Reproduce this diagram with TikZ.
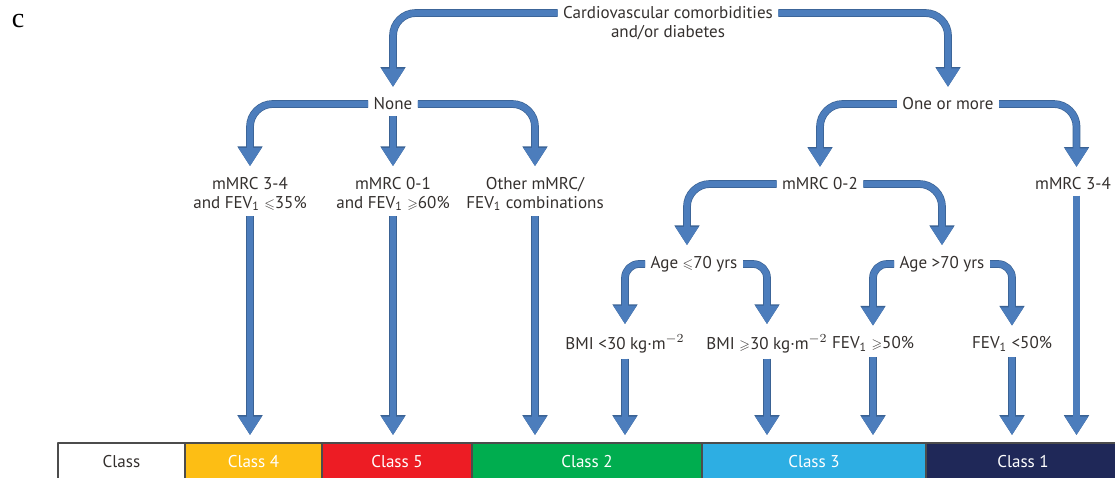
\documentclass[tikz,border=0pt]{standalone}
\usepackage{fontspec}
\usepackage{amssymb}
\usepackage{graphicx}
\newfontfamily\dinfont{PT Sans}
\newfontfamily\serfont{Liberation Serif}
\usetikzlibrary{arrows.meta}
\definecolor{arrowblue}{RGB}{76,125,188}
\definecolor{arrowedge}{RGB}{58,98,148}
\definecolor{txtgrey}{RGB}{52,48,46}
\definecolor{clsyellow}{RGB}{253,190,20}
\definecolor{clsred}{RGB}{237,28,36}
\definecolor{clsgreen}{RGB}{0,173,79}
\definecolor{clscyan}{RGB}{45,174,227}
\definecolor{clsnavy}{RGB}{31,40,88}
\newcommand{\lesym}{\scalebox{0.8}{$\leqslant$}}
\newcommand{\gesym}{\scalebox{0.8}{$\geqslant$}}
\begin{document}
\begin{tikzpicture}[x=0.02cm, y=-0.02cm, font=\dinfont\fontsize{9.7}{10.8}\selectfont, line join=round,
	txt/.style={text=txtgrey, inner sep=3pt, align=center},
	flow/.style={draw=arrowblue, line width=3.6pt, rounded corners=13pt, -{Triangle[width=12.5pt,length=10.5pt]}, shorten >=3pt,
		preaction={draw=arrowedge, line width=4.4pt, -{Triangle[width=13.6pt,length=11.3pt]}}},
	tight/.style={rounded corners=8pt},
	cell/.style={draw=black!70, line width=0.6pt}]
	\clip (0,0) rectangle (1115,477);
	\node[font=\serfont\fontsize{16}{16}\selectfont] (tag) at (18,21) {c};
	\node[txt] (cvd) at (668,13) {Cardiovascular comorbidities};
	\node[txt] (cvdb) at (668,33) {and/or diabetes};
	\node[txt] (none) at (393,104) {None};
	\node[txt] (more) at (948,104) {One or more};
	\node[txt] (m34) at (250,194) {mMRC 3-4\\and FEV\textsubscript{1} \lesym35\%};
	\node[txt] (m01) at (393,194) {mMRC 0-1\\and FEV\textsubscript{1} \gesym60\%};
	\node[txt] (oth) at (535,194) {Other mMRC/\\FEV\textsubscript{1} combinations};
	\node[txt] (m02) at (820,184) {mMRC 0-2};
	\node[txt] (mr34) at (1073,184) {mMRC 3-4};
	\node[txt] (agelo) at (694,264) {Age \lesym70 yrs};
	\node[txt] (agehi) at (942,264) {Age >70 yrs};
	\node[txt] (bmilo) at (625,344) {BMI <30 kg·m$^{-2}$};
	\node[txt] (bmihi) at (767,344) {BMI \gesym30 kg·m$^{-2}$};
	\node[txt] (fevhi) at (873,344) {FEV\textsubscript{1} \gesym50\%};
	\node[txt] (fevlo) at (1012,344) {FEV\textsubscript{1} <50\%};
	\coordinate (bartop) at (0,443);
	\draw[cell] (58,443) rectangle (185,480) node[midway, text=txtgrey] (c0) {Class};
	\draw[cell, fill=clsyellow] (185,443) rectangle (322,480) node[midway, text=white] (c4) {Class 4};
	\draw[cell, fill=clsred] (322,443) rectangle (472,480) node[midway, text=white] (c5) {Class 5};
	\draw[cell, fill=clsgreen] (472,443) rectangle (702,480) node[midway, text=white] (c2) {Class 2};
	\draw[cell, fill=clscyan] (702,443) rectangle (926,480) node[midway, text=white] (c3) {Class 3};
	\draw[cell, fill=clsnavy] (926,443) rectangle (1120,480) node[midway, text=white] (c1) {Class 1};
	\draw[flow] (cvd.west) -| (none.north);
	\draw[flow] (cvd.east) -| (more.north);
	\draw[flow] (none.west) -| (m34.north);
	\draw[flow] (none.south) -- (m01.north);
	\draw[flow] (none.east) -| (oth.north);
	\draw[flow] (more.west) -| (m02.north);
	\draw[flow] (more.east) -| ([xshift=2]mr34.north);
	\draw[flow] (m02.west) -| ([xshift=-4]agelo.north);
	\draw[flow] (m02.east) -| (agehi.north);
	\draw[flow, tight] (agelo.west) -| (bmilo.north);
	\draw[flow, tight] (agelo.east) -| (bmihi.north);
	\draw[flow, tight] (agehi.west) -| (fevhi.north);
	\draw[flow, tight] (agehi.east) -| (fevlo.north);
	\foreach \n in {m34,m01,oth,bmilo,bmihi,fevhi,fevlo}
		\draw[flow, shorten >=4.5pt] (\n.south) -- (\n.south |- bartop);
	\draw[flow, shorten >=4.5pt] ([xshift=2]mr34.south) -- ([xshift=2]mr34.south |- bartop);
\end{tikzpicture}
\end{document}
